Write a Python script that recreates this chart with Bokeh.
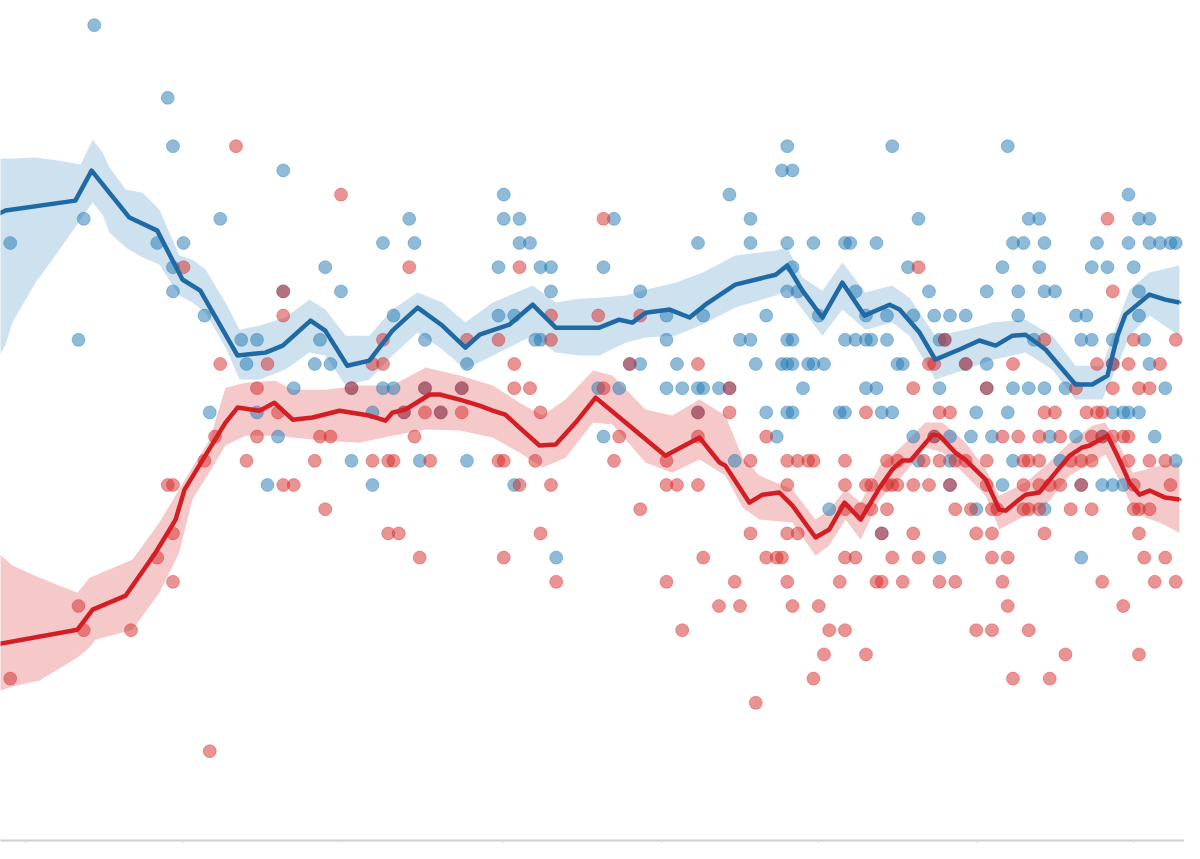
from bokeh.plotting import figure
from bokeh.models import Range1d, FixedTicker, ColumnDataSource
from bokeh.embed import file_html
from bokeh.resources import INLINE

# ---------------- data (x = day index, y = percent) ----------------
tick_days = [6, 36, 66, 97, 127, 157, 187, 217]

blue_day = [19, 33, 34, 55, 17, 43, 3, 31, 36, 74, 34, 63, 34, 55, 66, 40, 16, 47, 50, 62, 48, 61, 64, 57, 68, 74, 41, 50, 72, 54, 68, 52, 72,
            151, 150, 152, 97, 140, 79, 97, 100, 118, 144, 80, 100, 102, 134, 144, 151, 96, 104, 106, 116, 106, 123, 151, 76, 96, 99, 128, 135, 147,
            82, 103, 104, 128, 142, 144, 151, 90, 121, 123, 130, 145, 150, 151, 76, 82, 89, 115, 119, 128, 131, 134, 135, 138, 140, 78, 85, 134, 147,
            151, 116, 149, 81, 90, 141, 99, 107,
            171, 193, 216, 176, 197, 199, 218, 220, 156, 162, 163, 168, 194, 196, 200, 210, 216, 220, 222, 224, 225, 152, 174, 192, 199, 209, 212, 217,
            153, 164, 178, 189, 195, 200, 202, 218, 157, 166, 170, 175, 179, 182, 185, 195, 206, 208, 218, 152, 162, 164, 166, 167, 170, 180, 181, 198,
            207, 209, 213, 219, 152, 155, 156, 158, 172, 173, 185, 189, 213, 220, 154, 166, 168, 180, 189, 194, 197, 200, 204, 223, 152, 161, 162, 169,
            171, 187, 193, 213, 215, 216, 218, 175, 179, 182, 186, 190, 201, 206, 211, 221, 176, 182, 194, 203, 225, 182, 192, 207, 211, 213, 215, 159,
            187, 200, 169, 180, 207]
blue_pct = [52, 49, 47, 46, 44, 44, 43, 43, 43, 43, 42, 42, 41, 41, 41, 40, 39, 39, 39, 39, 38, 38, 38, 37, 37, 37, 36, 36, 36, 35, 34, 33, 33,
            47, 46, 46, 45, 45, 44, 44, 44, 44, 44, 43, 43, 43, 43, 43, 43, 42, 42, 42, 42, 41, 41, 41, 40, 40, 40, 40, 40, 40,
            39, 39, 39, 39, 39, 39, 39, 38, 38, 38, 38, 38, 38, 38, 37, 37, 37, 37, 37, 37, 37, 37, 37, 37, 37, 36, 36, 36, 36,
            36, 35, 35, 34, 34, 34, 33, 30,
            47, 47, 45, 44, 44, 44, 44, 44, 43, 43, 43, 43, 43, 43, 43, 43, 43, 43, 43, 43, 43, 42, 42, 42, 42, 42, 42, 42,
            41, 41, 41, 41, 41, 41, 41, 41, 40, 40, 40, 40, 40, 40, 40, 40, 40, 40, 40, 39, 39, 39, 39, 39, 39, 39, 39, 39,
            39, 39, 39, 39, 38, 38, 38, 38, 38, 38, 38, 38, 38, 38, 37, 37, 37, 37, 37, 37, 37, 37, 37, 37, 36, 36, 36, 36,
            36, 36, 36, 36, 36, 36, 36, 35, 35, 35, 35, 35, 35, 35, 35, 35, 34, 34, 34, 34, 34, 33, 33, 33, 33, 33, 33, 32,
            32, 32, 31, 30, 30]

red_day = [46, 66, 36, 55, 55, 74, 43, 52, 72, 74, 50, 68, 54, 42, 50, 62, 64, 40, 48, 61, 72, 75, 33, 34, 55, 57, 63, 34, 75, 31, 34, 16, 26, 17, 3, 41,
           79, 100, 116, 106, 115, 123, 90, 96, 106, 99, 121, 134, 82, 89, 99, 102, 116, 140, 78, 82, 85, 89, 104, 134, 140, 80, 119, 134, 147,
           76, 83, 96, 97, 103, 118, 128, 144, 151, 100, 106, 128, 130, 134, 151, 123, 77, 104, 144, 151, 81, 97, 135, 147, 149, 150, 107, 128,
           141, 151, 138, 142, 152, 131, 145,
           212, 176, 213, 200, 217, 225, 181, 178, 179, 185, 194, 210, 213, 216, 222, 175, 189, 206, 213, 218, 220, 166, 180, 182, 200, 202, 208,
           210, 211, 179, 192, 195, 199, 203, 209, 211, 213, 215, 216, 153, 155, 156, 162, 170, 172, 177, 180, 183, 185, 189, 196, 197, 199,
           205, 207, 209, 216, 220, 223, 162, 166, 167, 170, 171, 172, 175, 178, 182, 189, 196, 199, 201, 203, 207, 217, 224, 162, 165, 167,
           170, 183, 186, 190, 191, 196, 197, 199, 205, 209, 217, 218, 220, 153, 169, 175, 187, 190, 200, 218, 162, 164, 171, 176, 190, 193,
           219, 223, 161, 168, 169, 173, 180, 183, 192, 211, 221, 225, 157, 193, 215, 159, 162, 187, 190, 197, 158, 166, 204, 218, 156, 194, 201]
red_pct = [47, 45, 42, 41, 40, 39, 38, 38, 38, 38, 37, 37, 36, 35, 35, 35, 35, 34, 34, 34, 34, 34, 33, 33, 33, 33, 32, 31, 31, 30, 29, 28, 27, 27, 25, 22,
           42, 42, 44, 40, 40, 40, 39, 39, 39, 38, 38, 38, 37, 37, 37, 37, 37, 37, 36, 36, 36, 36, 36, 36, 36, 35, 35, 35, 35,
           34, 34, 34, 34, 34, 34, 34, 34, 34, 33, 33, 33, 33, 33, 33, 32, 31, 31, 31, 31, 30, 30, 30, 30, 30, 30, 29, 29,
           29, 29, 28, 28, 28, 27, 24,
           44, 42, 41, 39, 39, 39, 39, 38, 38, 38, 38, 38, 38, 38, 38, 37, 37, 37, 37, 37, 37, 36, 36, 36, 36, 36, 36,
           36, 36, 35, 35, 35, 35, 35, 35, 35, 35, 35, 35, 34, 34, 34, 34, 34, 34, 34, 34, 34, 34, 34, 34, 34, 34,
           34, 34, 34, 34, 34, 34, 33, 33, 33, 33, 33, 33, 33, 33, 33, 33, 33, 33, 33, 33, 33, 33, 33, 32, 32, 32,
           32, 32, 32, 32, 32, 32, 32, 32, 32, 32, 32, 32, 32, 31, 31, 31, 31, 31, 31, 31, 30, 30, 30, 30, 30, 30,
           30, 30, 29, 29, 29, 29, 29, 29, 29, 29, 29, 29, 28, 28, 28, 27, 27, 27, 27, 27, 26, 26, 26, 26, 25, 25, 25]

blue_line_day = [0, 2.1, 15.4, 18.5, 25.7, 31.0, 35.8, 39.2, 46.3, 51.6, 54.9, 60.2, 63.0, 67.2, 71.4, 75.8, 80.6, 85.3, 89.7, 92.4, 98.1,
                 102.5, 106.9, 115.2, 119.0, 121.5, 124.0, 128.6, 132.4, 135.4, 141.1, 148.8, 151.0, 153.9, 157.7, 161.5, 165.7, 170.5,
                 172.4, 176.2, 179.2, 183.8, 187.6, 190.7, 193.9, 196.4, 200.2, 205.9, 209.1, 212.0, 213.9, 215.4, 220.0, 223.0, 225.7]
blue_line_pct = [44.13, 44.34, 44.75, 45.99, 44.05, 43.51, 41.49, 41.03, 38.35, 38.47, 38.76, 39.79, 39.38, 37.93, 38.14, 39.38, 40.33,
                 39.59, 38.68, 39.21, 39.63, 40.45, 39.50, 39.50, 39.83, 39.71, 40.12, 40.25, 39.92, 40.45, 41.28, 41.69, 42.07, 41.03,
                 39.92, 41.36, 40.00, 40.45, 40.25, 39.30, 38.18, 38.60, 38.97, 38.76, 39.17, 39.21, 38.60, 37.15, 37.15, 37.52, 39.17,
                 40.04, 40.87, 40.66, 40.54]

red_line_day = [0, 15.8, 18.7, 25.0, 30.7, 34.5, 36.2, 44.0, 46.3, 50.5, 53.3, 56.8, 60.6, 65.7, 71.4, 74.5, 75.8, 78.3, 82.9, 84.8, 88.6,
                92.4, 94.9, 97.3, 100.0, 103.8, 106.9, 110.7, 114.5, 120.2, 127.8, 134.3, 138.1, 139.2, 143.8, 146.3, 149.5, 152.0, 156.4,
                159.0, 161.9, 165.0, 168.6, 171.0, 172.9, 174.5, 178.7, 180.0, 183.0, 184.9, 188.8, 191.4, 192.6, 195.2, 196.4, 199.0,
                202.1, 204.8, 207.2, 208.6, 212.0, 213.9, 216.2, 218.1, 220.0, 223.0, 225.7]
red_line_pct = [26.40, 27.02, 27.85, 28.43, 30.21, 31.57, 32.81, 35.58, 36.20, 36.07, 36.40, 35.70, 35.79, 36.07, 35.87, 35.66, 35.99,
                36.12, 36.74, 36.74, 36.53, 36.28, 36.07, 35.91, 35.37, 34.63, 34.67, 35.58, 36.61, 35.58, 34.21, 34.96, 33.93, 33.80,
                32.27, 32.60, 32.69, 32.15, 30.83, 31.16, 32.27, 31.57, 32.89, 33.64, 34.01, 34.01, 35.08, 35.04, 34.34, 34.05, 33.22,
                31.98, 31.94, 32.40, 32.60, 32.69, 33.51, 34.21, 34.55, 34.63, 35.04, 34.21, 33.10, 32.60, 32.77, 32.48, 32.40]

blue_band_day = [0, 2.1, 3.4, 7.8, 12.4, 16.4, 18.7, 20.6, 21.9, 25.0, 28.2, 31.4, 35.2, 37.7, 40.2, 44.0, 46.7, 50.5, 55.4, 60.0, 63.0,
                 66.9, 71.4, 75.8, 80.6, 85.3, 89.7, 94.9, 102.5, 106.9, 111.4, 115.2, 120.2, 124.0, 129.7, 134.9, 141.1, 148.8, 151.0,
                 153.9, 157.7, 161.5, 165.9, 171.0, 174.3, 179.2, 185.0, 190.1, 196.4, 201.5, 205.9, 211.0, 213.9, 216.2, 220.0, 225.7]
blue_band_hi = [46.45, 46.49, 46.49, 46.53, 46.40, 46.24, 47.27, 46.74, 46.12, 45.21, 45.08, 44.38, 42.48, 42.31, 41.90, 40.54, 39.42,
                39.59, 39.92, 40.66, 40.25, 39.17, 39.17, 40.25, 40.95, 40.54, 39.71, 40.54, 41.24, 40.54, 40.70, 40.74, 40.83, 41.07,
                41.36, 41.78, 42.48, 42.69, 42.81, 41.57, 41.03, 42.19, 40.95, 41.24, 40.74, 39.17, 39.42, 39.71, 39.83, 39.17, 37.93,
                37.93, 39.71, 41.07, 41.78, 42.07]
blue_band_lo = [37.98, 38.80, 39.71, 41.36, 42.73, 43.97, 44.67, 44.17, 43.43, 42.81, 42.40, 42.11, 40.83, 40.54, 40.12, 38.68, 37.36,
                37.36, 37.77, 38.47, 38.35, 37.11, 37.36, 38.35, 39.30, 38.60, 37.77, 38.35, 39.17, 38.47, 38.35, 38.35, 38.88, 39.09,
                39.17, 39.63, 40.33, 40.83, 41.07, 40.25, 39.17, 40.25, 39.42, 39.71, 39.17, 37.36, 37.77, 38.18, 38.47, 37.77, 36.53,
                36.53, 37.93, 39.17, 40.00, 39.17]

red_band_day = [0, 3.4, 8.6, 15.8, 18.1, 19.2, 26.3, 31.4, 35.2, 37.7, 41.0, 44.0, 47.8, 53.5, 56.8, 63.0, 69.5, 75.8, 82.1, 88.6, 94.9,
                100.0, 104.4, 108.8, 114.0, 117.7, 124.0, 129.1, 134.3, 139.2, 142.5, 145.7, 152.0, 156.4, 159.0, 162.1, 165.0, 168.6,
                173.0, 177.3, 180.6, 185.0, 188.8, 191.4, 196.4, 200.2, 204.8, 209.1, 211.6, 214.3, 216.8, 219.3, 221.9, 225.7]
red_band_hi = [30.33, 29.67, 29.17, 28.55, 29.17, 29.26, 29.92, 31.45, 32.81, 33.72, 34.88, 37.02, 37.23, 37.31, 36.94, 36.94, 37.11,
               37.11, 37.85, 37.52, 37.11, 36.40, 35.87, 36.53, 37.73, 37.52, 36.12, 35.87, 36.53, 35.87, 34.13, 33.39, 32.81, 31.57,
               31.98, 32.81, 32.27, 33.80, 34.63, 35.58, 35.58, 34.75, 33.64, 32.56, 33.10, 33.80, 34.75, 35.45, 35.58, 34.63, 33.51,
               33.64, 33.80, 33.93]
red_band_lo = [24.42, 24.67, 24.92, 25.87, 26.28, 26.61, 27.02, 28.55, 30.21, 32.40, 33.55, 34.63, 35.04, 35.04, 34.96, 34.83, 34.75,
               35.04, 35.29, 35.25, 34.96, 34.34, 33.72, 34.13, 35.58, 35.50, 33.93, 33.51, 34.05, 33.39, 32.07, 31.57, 31.45, 30.08,
               30.50, 31.57, 30.74, 32.40, 33.39, 34.55, 34.34, 33.39, 32.56, 31.16, 31.74, 32.15, 33.39, 33.93, 34.26, 33.18, 32.07,
               31.65, 31.45, 31.03]

# ---------------- styling ----------------
BLUE = "#1f77b4"
BLUE_LINE = "#1f6aa5"
RED = "#d62728"
RED_LINE = "#d41e24"

X0, X1 = 1.143, 226.67
Y0, Y1 = 18.31, 53.02

p = figure(width=1184, height=843, output_backend="svg", toolbar_location=None,
           x_range=Range1d(X0, X1), y_range=Range1d(Y0, Y1), min_border=0)
p.min_border_left = 0
p.min_border_right = 0
p.min_border_top = 0
p.min_border_bottom = 0
p.outline_line_color = None
p.grid.visible = False
p.yaxis.visible = False
p.background_fill_color = "white"
p.border_fill_color = "white"

ax = p.xaxis[0]
ax.ticker = FixedTicker(ticks=tick_days)
ax.axis_line_color = "#cfcfcf"
ax.axis_line_width = 2
ax.major_tick_line_color = "#e0e0e0"
ax.major_tick_in = 0
ax.major_tick_out = 3
ax.minor_tick_line_color = None
ax.major_label_overrides = {t: "" for t in tick_days}
ax.major_label_text_font_size = "1px"
ax.major_label_standoff = 0

# bands
p.varea(x=blue_band_day, y1=blue_band_lo, y2=blue_band_hi, fill_color=BLUE, fill_alpha=0.22)
p.varea(x=red_band_day, y1=red_band_lo, y2=red_band_hi, fill_color=RED, fill_alpha=0.25)

# poll dots
p.scatter(x=blue_day, y=blue_pct, size=13, fill_color=BLUE, fill_alpha=0.5,
          line_color=BLUE, line_alpha=0.35, line_width=1)
p.scatter(x=red_day, y=red_pct, size=13, fill_color=RED, fill_alpha=0.5,
          line_color=RED, line_alpha=0.35, line_width=1)

# trend lines
p.line(x=blue_line_day, y=blue_line_pct, line_color=BLUE_LINE, line_width=4.5, line_join="round")
p.line(x=red_line_day, y=red_line_pct, line_color=RED_LINE, line_width=4.5, line_join="round")

# dotted continuation at the right edge
p.line(x=[blue_line_day[-1], X1 + 2], y=[blue_line_pct[-1], blue_line_pct[-1]],
       line_color=BLUE_LINE, line_width=2, line_dash="2 3")
p.line(x=[red_line_day[-1], X1 + 2], y=[red_line_pct[-1], red_line_pct[-1]],
       line_color=RED_LINE, line_width=2, line_dash="2 3")

open("out.html", "w").write(file_html(p, INLINE))
